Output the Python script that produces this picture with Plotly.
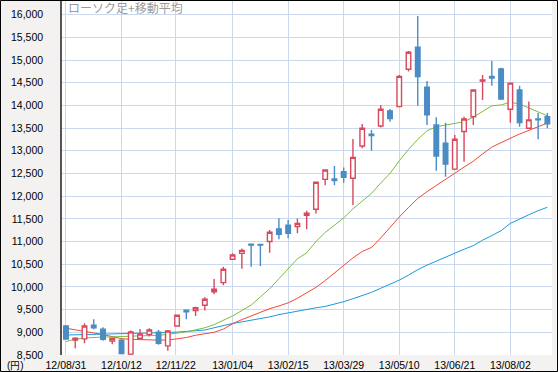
import pandas as pd
import plotly.graph_objects as go

start_date = "2012-08-31"
n_weeks = 53
dates = pd.date_range(start_date, periods=n_weeks, freq="7D")

opens = [9140, 8830, 8855, 9155, 9070, 8810, 8825, 8520, 8870, 8955,
         9000, 8700, 9140, 9485, 9480, 9595, 9895, 10095, 10610, 10740,
         10940, 10935, 11000, 11280, 11360, 11330, 11580, 11710, 12370, 12380,
         12540, 12395, 13105, 13365, 13545, 13880, 13975, 14795, 15280, 14400,
         13570, 13165, 12595, 13425, 13750, 14535, 14635, 14805, 13915, 14340,
         13495, 13700, 13750]
highs = [9160, 8890, 9200, 9290, 9110, 8880, 8860, 9040, 9075, 9090,
         9050, 9050, 9380, 9490, 9565, 9770, 10175, 10445, 10740, 10845,
         10945, 10945, 11255, 11515, 11475, 11505, 11680, 12310, 12580, 12665,
         12630, 13260, 13590, 13460, 14010, 13920, 14670, 15200, 15970, 14540,
         13740, 13620, 13350, 13750, 14345, 14670, 14980, 14830, 14495, 14430,
         14085, 13830, 13830]
lows = [8840, 8650, 8760, 9065, 8815, 8735, 8515, 8480, 8860, 8905,
        8725, 8595, 9130, 9290, 9360, 9480, 9840, 10035, 10600, 10400,
        10445, 10460, 10755, 11050, 11070, 11180, 11270, 11620, 12240, 12240,
        12295, 11805, 13055, 13000, 13510, 13640, 13970, 14745, 13990, 13570,
        12560, 12430, 12575, 12760, 13570, 14120, 14430, 14120, 13620, 13530,
        13490, 13255, 13495]
closes = [8850, 8870, 9140, 9100, 8845, 8870, 8530, 9010, 8960, 9050,
          8760, 9030, 9375, 9450, 9540, 9727, 9950, 10390, 10705, 10805,
          10920, 10920, 11205, 11160, 11180, 11400, 11625, 12305, 12575, 12345,
          12415, 12855, 13495, 13335, 13915, 13710, 14640, 15170, 14635, 13790,
          12885, 12705, 13255, 13700, 14340, 14560, 14605, 14140, 14490, 13620,
          13680, 13685, 13595]

ma_short = [8795, 8850, 8875, 8890, 8895, 8900, 8905, 8910, 8915, 8920,
            8935, 8955, 8980, 9010, 9055, 9100, 9170, 9260, 9360, 9480,
            9600, 9780, 9960, 10180, 10410, 10620, 10750, 11000, 11200, 11360,
            11520, 11720, 11900, 12060, 12290, 12500, 12780, 13030, 13250, 13440,
            13530, 13570, 13600, 13640, 13740, 13860, 13990, 14010, 14070, 14030,
            13940, 13845, 13770]
ma_mid = [9090, 9060, 9020, 8985, 8950, 8900, 8860, 8845, 8835, 8830,
          8828, 8830, 8850, 8885, 8935, 8960, 9000, 9070, 9190, 9280,
          9360, 9430, 9520, 9580, 9650, 9750, 9870, 9990, 10140, 10310,
          10490, 10640, 10780, 10870, 11080, 11320, 11540, 11750, 11950, 12100,
          12240, 12380, 12505, 12640, 12770, 12930, 13080, 13180, 13280, 13370,
          13450, 13530, 13610]
ma_long = [8940, 8945, 8950, 8950, 8952, 8955, 8957, 8960, 8965, 8975,
           8985, 8995, 9005, 9015, 9030, 9050, 9100, 9150, 9195, 9230,
           9265, 9300, 9340, 9390, 9430, 9470, 9510, 9540, 9570, 9620,
           9675, 9740, 9810, 9880, 9970, 10060, 10150, 10260, 10380, 10480,
           10570, 10660, 10750, 10830, 10910, 11030, 11130, 11240, 11400, 11500,
           11590, 11680, 11755]

tick_dates = ["2012-08-31", "2012-10-12", "2012-11-22", "2013-01-04", "2013-02-15",
              "2013-03-29", "2013-05-10", "2013-06-21", "2013-08-02"]
tick_text = ["12/08/31", "12/10/12", "12/11/22", "13/01/04", "13/02/15",
             "13/03/29", "13/05/10", "13/06/21", "13/08/02"]
y_ticks = list(range(8500, 16001, 500))

title_text = "ローソク足+移動平均"
unit_text = "(円)"

W, H = 558, 372
ml, mr, mt, mb = 62, 6, 1, 17
pw, ph = W - ml - mr, H - mt - mb

grid_c = "#cbd8ee"
font_fam = "Liberation Sans, Arial, sans-serif"

fig = go.Figure()
for vals, col in [(ma_long, "#1a9ad8"), (ma_mid, "#ee4a32"), (ma_short, "#78bf3c")]:
    fig.add_trace(go.Scatter(x=dates, y=vals, mode="lines",
                             line=dict(color=col, width=1), hoverinfo="skip",
                             xaxis="x", yaxis="y"))

fig.add_trace(go.Candlestick(
    x=dates, open=opens, high=highs, low=lows, close=closes,
    increasing=dict(line=dict(color="#d9485c", width=1.4), fillcolor="#ffffff"),
    decreasing=dict(line=dict(color="#4a8cc4", width=1.4), fillcolor="#4a8cc4"),
    whiskerwidth=0, xaxis="x2", yaxis="y2",
))

xr = ["2012-08-28", "2013-09-02 12:00"]
yr = [8500, 16300]

fig.update_layout(
    width=W, height=H,
    margin=dict(l=ml, r=mr, t=mt, b=mb),
    paper_bgcolor="#f3f2f0",
    plot_bgcolor="#ffffff",
    showlegend=False,
    font=dict(family=font_fam, size=10.5, color="#000000"),
    xaxis=dict(type="date", range=xr, tickvals=tick_dates, ticktext=tick_text,
               showgrid=True, gridcolor=grid_c, gridwidth=1, zeroline=False,
               showline=False, ticks="", ticklabelstandoff=2,
               tickfont=dict(size=10.5, color="#000"),
               rangeslider=dict(visible=False)),
    yaxis=dict(range=yr, tickvals=y_ticks, tickformat=",d",
               showgrid=True, gridcolor=grid_c, gridwidth=1, zeroline=False,
               showline=True, linecolor="#555555", linewidth=1.5,
               ticks="", ticklabelstandoff=15, tickfont=dict(size=10.5, color="#000")),
    xaxis2=dict(type="date", range=xr, overlaying="x", visible=False,
                rangeslider=dict(visible=False)),
    yaxis2=dict(range=yr, overlaying="y", visible=False),
    annotations=[
        dict(text=title_text, xref="paper", yref="paper", x=4 / pw, y=1 - 7 / ph,
             xanchor="left", yanchor="middle", showarrow=False,
             font=dict(family="Noto Sans CJK JP", size=12, color="#9a9a9a")),
        dict(text=unit_text, xref="paper", yref="paper", x=(5 - ml) / pw,
             y=(ph - (365 - mt)) / ph, xanchor="left", yanchor="middle",
             showarrow=False, font=dict(family=font_fam, size=10, color="#000")),
    ],
    shapes=[
        dict(type="rect", xref="paper", yref="paper",
             x0=(-ml + 0.5) / pw, x1=1 + (mr - 0.5) / pw,
             y0=(-mb + 0.5) / ph, y1=1 + (mt - 0.5) / ph,
             line=dict(color="#000000", width=1), fillcolor="rgba(0,0,0,0)", layer="above"),
    ],
)

fig.write_html("out.html", config={"displayModeBar": False},
               post_script="document.body.style.margin='0';document.body.style.padding='0';"
                           "document.body.style.overflow='hidden';")
